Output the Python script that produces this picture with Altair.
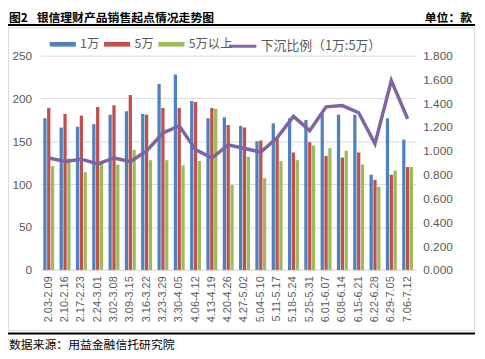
import altair as alt
import pandas as pd

categories = ["2.03-2.09", "2.10-2.16", "2.17-2.23", "2.24-3.01", "3.02-3.08", "3.09-3.15",
              "3.16-3.22", "3.23-3.29", "3.30-4.05", "4.06-4.12", "4.13-4.19", "4.20-4.26",
              "4.27-5.02", "5.04-5.10", "5.11-5.17", "5.18-5.24", "5.25-5.31", "6.01-6.07",
              "6.08-6.14", "6.15-6.21", "6.22-6.28", "6.29-7.05", "7.06-7.12"]
series_names = ["1万", "5万", "5万以上"]
bar_colors = ["#4F81BD", "#C0504D", "#9BBB59"]
wan1 = [177, 166, 167, 170, 181, 185, 182, 217, 228, 197, 177, 178, 168, 150, 171, 177, 175, 182, 181, 181, 111, 177, 152]
wan5 = [189, 182, 180, 190, 192, 204, 181, 189, 189, 196, 189, 169, 166, 151, 154, 137, 149, 133, 131, 137, 105, 111, 120]
above5 = [121, 130, 114, 124, 123, 140, 128, 128, 122, 127, 188, 99, 132, 107, 127, 128, 145, 142, 139, 123, 97, 116, 120]
line_name = "下沉比例（1万:5万）"
ratio = [0.94, 0.91, 0.93, 0.89, 0.94, 0.91, 1.00, 1.15, 1.21, 1.01, 0.94, 1.05, 1.02, 0.99, 1.11, 1.29, 1.17, 1.37, 1.38, 1.32, 1.06, 1.59, 1.27]

rows = []
for s, vals in zip(series_names, [wan1, wan5, above5]):
    for c, v in zip(categories, vals):
        rows.append({"cat": c, "series": s, "value": v})
bar_df = pd.DataFrame(rows)
line_df = pd.DataFrame({"cat": categories, "ratio": ratio, "name": [line_name] * len(categories)})

FONT = "Noto Sans CJK SC"
NUMF = "Liberation Sans"
GRAY = "#595959"

xenc = alt.X("cat:N", sort=categories,
             scale=alt.Scale(paddingInner=0.33, paddingOuter=0.165),
             axis=alt.Axis(title=None, labelAngle=270, labelFontSize=11, labelColor=GRAY,
                           labelFont=NUMF, labelPadding=6, ticks=False, domainColor="#D9D9D9",
                           labelOverlap=False))

bars = alt.Chart(bar_df).mark_bar().encode(
    x=xenc,
    xOffset=alt.XOffset("series:N", sort=series_names, scale=alt.Scale(paddingInner=0.15)),
    y=alt.Y("value:Q", scale=alt.Scale(domain=[0, 250]),
            axis=alt.Axis(title=None, values=[0, 50, 100, 150, 200, 250], grid=True,
                          gridColor="#D9D9D9", domain=False, ticks=False, labelFontSize=12,
                          labelColor=GRAY, labelFont=NUMF, labelPadding=9)),
    color=alt.Color("series:N", sort=series_names,
                    scale=alt.Scale(domain=series_names, range=bar_colors),
                    legend=alt.Legend(title=None, orient="none", legendX=9, legendY=-25,
                                      direction="horizontal",
                                      symbolType="M-1,-0.18L1,-0.18L1,0.18L-1,0.18Z",
                                      symbolSize=700, symbolStrokeWidth=0,
                                      labelFont=FONT, labelFontSize=12.5, labelColor=GRAY,
                                      labelOffset=4, columnPadding=4)),
)

line = alt.Chart(line_df).mark_line(strokeWidth=3.5, color="#8064A2").encode(
    x=alt.X("cat:N", sort=categories),
    y=alt.Y("ratio:Q", scale=alt.Scale(domain=[0, 1.8]),
            axis=alt.Axis(title=None, orient="right", values=[0, 0.2, 0.4, 0.6, 0.8, 1.0, 1.2, 1.4, 1.6, 1.8],
                          format=".3f", grid=False, domain=False, ticks=False, labelFontSize=12,
                          labelColor=GRAY, labelFont=NUMF, labelPadding=7)),
    stroke=alt.Stroke("name:N", scale=alt.Scale(domain=[line_name], range=["#8064A2"]),
                      legend=alt.Legend(title=None, orient="none", legendX=189, legendY=-25,
                                        symbolType="stroke", symbolSize=784, symbolStrokeWidth=3,
                                        labelFont=FONT, labelFontSize=13, labelColor=GRAY,
                                        labelOffset=3)),
)

one = pd.DataFrame({"k": [0]})

frame = alt.Chart(one).mark_rect(fillOpacity=0, stroke="#D9D9D9", strokeWidth=1).encode(
    x=alt.value(-32.5), x2=alt.value(439.5), y=alt.value(-28.3), y2=alt.value(278.5))
top_rule = alt.Chart(one).mark_rule(color="black", strokeWidth=2).encode(
    x=alt.value(-33), x2=alt.value(440), y=alt.value(-31))
bot_rule = alt.Chart(one).mark_rule(color="black", strokeWidth=2).encode(
    x=alt.value(-33), x2=alt.value(440), y=alt.value(281.5))

TY = -38.3
t1 = alt.Chart(one).mark_text(text="图2", font=FONT, fontSize=12, fontWeight="bold",
                              color="black", align="left", baseline="middle").encode(
    x=alt.value(-32), y=alt.value(TY))
t2 = alt.Chart(one).mark_text(text="银信理财产品销售起点情况走势图", font=FONT, fontSize=12,
                              fontWeight="bold", color="black", align="left",
                              baseline="middle").encode(x=alt.value(-4), y=alt.value(TY))
t3 = alt.Chart(one).mark_text(text="单位：款", font=FONT, fontSize=12, fontWeight="bold",
                              color="black", align="right", baseline="middle").encode(
    x=alt.value(437), y=alt.value(TY))
t4 = alt.Chart(one).mark_text(text="数据来源：用益金融信托研究院", font=FONT, fontSize=12,
                              color="black", align="left", baseline="middle").encode(
    x=alt.value(-32), y=alt.value(293.5))

chart = alt.layer(bars, line, frame, top_rule, bot_rule, t1, t2, t3, t4).resolve_scale(
    y="independent"
).properties(
    width=380, height=217,
    autosize=alt.AutoSizeParams(type="none"),
    padding={"left": 33, "top": 46, "right": 62, "bottom": 86},
    background="white",
).configure_view(stroke=None)

chart.save("out.html", embed_options={"renderer": "svg", "actions": False})
